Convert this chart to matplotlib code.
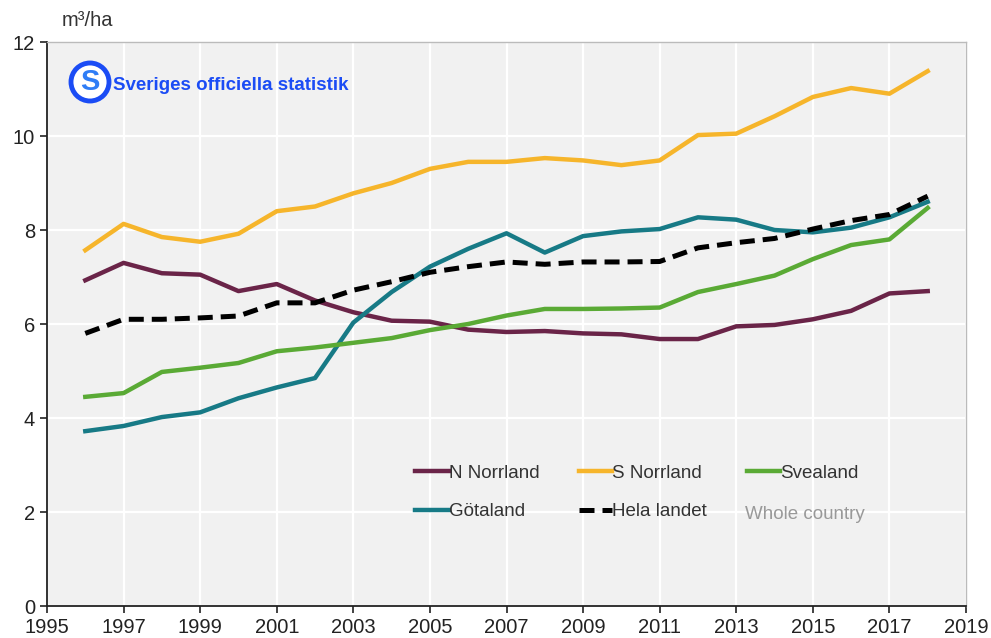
import matplotlib
matplotlib.use("Agg")
import matplotlib.pyplot as plt
from matplotlib.patches import Circle

years = list(range(1996, 2019))
n_norrland = [6.93, 7.30, 7.08, 7.05, 6.70, 6.85, 6.50, 6.25, 6.07, 6.05, 5.88, 5.83,
              5.85, 5.80, 5.78, 5.68, 5.68, 5.95, 5.98, 6.10, 6.28, 6.65, 6.70]
s_norrland = [7.57, 8.13, 7.85, 7.75, 7.92, 8.40, 8.50, 8.78, 9.00, 9.30, 9.45, 9.45,
              9.53, 9.48, 9.38, 9.48, 10.02, 10.05, 10.42, 10.83, 11.02, 10.90, 11.38]
svealand = [4.45, 4.53, 4.98, 5.07, 5.17, 5.42, 5.50, 5.60, 5.70, 5.87, 6.00, 6.18,
            6.32, 6.32, 6.33, 6.35, 6.68, 6.85, 7.03, 7.38, 7.68, 7.80, 8.47]
gotaland = [3.72, 3.83, 4.02, 4.12, 4.42, 4.65, 4.85, 6.03, 6.68, 7.22, 7.60, 7.93,
            7.52, 7.87, 7.97, 8.02, 8.27, 8.22, 8.00, 7.95, 8.05, 8.27, 8.60]
hela_landet = [5.80, 6.10, 6.10, 6.13, 6.17, 6.45, 6.45, 6.72, 6.90, 7.10, 7.22, 7.32,
               7.27, 7.32, 7.32, 7.33, 7.62, 7.73, 7.82, 8.02, 8.20, 8.33, 8.72]

x_ticks = list(range(1995, 2020, 2))
y_ticks = [0, 2, 4, 6, 8, 10, 12]

plt.rcParams["font.family"] = ["Liberation Sans", "DejaVu Sans"]

fig = plt.figure(figsize=(9.91, 6.38), dpi=100)
ax = fig.add_axes([47 / 991, 32 / 638, 919 / 991, 564 / 638])
ax.set_facecolor("#f1f1f1")

# order chosen so the 3-column legend reads row-wise like the original
ax.plot(years, n_norrland, color="#6a2448", lw=3.2, label="N Norrland")
ax.plot(years, gotaland, color="#177a86", lw=3.2, label="Götaland")
ax.plot(years, s_norrland, color="#f6b52b", lw=3.2, label="S Norrland")
ax.plot(years, hela_landet, color="black", lw=3.6, ls=(0, (3, 1.6)), label="Hela landet",
        zorder=5)
ax.plot(years, svealand, color="#5aaa35", lw=3.2, label="Svealand")

ax.set_xlim(1995, 2019)
ax.set_ylim(0, 12)
ax.set_xticks(x_ticks)
ax.set_yticks(y_ticks)
ax.grid(color="white", lw=1.6)
ax.set_axisbelow(True)
ax.tick_params(axis="both", labelsize=14.5, colors="#222222", length=5, width=1.2)
for s in ("top", "right"):
    ax.spines[s].set_color("#bbbbbb")
    ax.spines[s].set_linewidth(1)
for s in ("left", "bottom"):
    ax.spines[s].set_color("#222222")
    ax.spines[s].set_linewidth(1.3)

fig.text(62 / 991, 1 - 20 / 638, "m³/ha", fontsize=14.5, color="#333333", va="center")

leg = ax.legend(ncol=3, loc="upper left", bbox_to_anchor=(0.382, 0.281), frameon=False,
                fontsize=13.5, handlelength=1.8, handletextpad=0.0, columnspacing=2.1,
                labelspacing=1.15)
for t in leg.get_texts():
    t.set_color("#333333")
ax.text(2014.8, 1.95, "Whole country", fontsize=13.5, color="#999999",
        ha="center", va="center")

# logo
logo_c = Circle((90, 638 - 82), 19, transform=None,
                facecolor="white", edgecolor="#1b4cf5", lw=3.5, zorder=10)
fig.add_artist(logo_c)
fig.text(90 / 991, 1 - 82 / 638, "S", fontsize=21, fontweight="bold", color="#2f7df6",
         ha="center", va="center", zorder=11)
fig.text(113 / 991, 1 - 86 / 638, "Sveriges officiella statistik", fontsize=13.5,
         fontweight="bold", color="#1b4cf5", ha="left", va="center", zorder=11)

fig.savefig("out.png", dpi=100)
